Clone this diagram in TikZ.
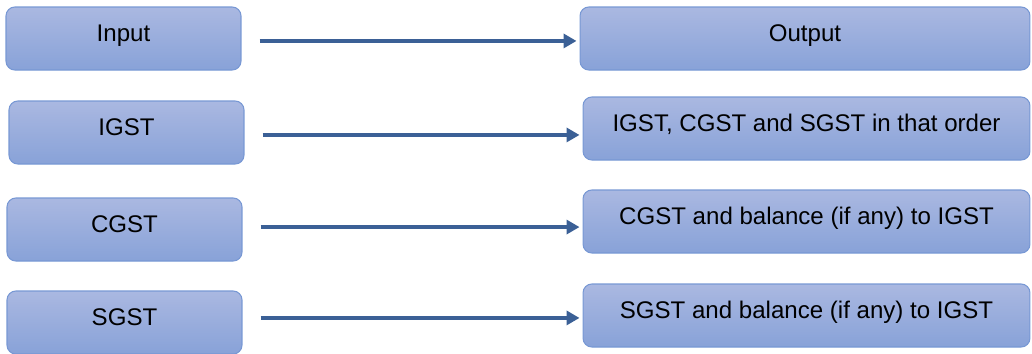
\documentclass[tikz,border=0pt]{standalone}
\usepackage{fontspec}
\setmainfont{Liberation Sans}
\usetikzlibrary{arrows.meta}
\definecolor{boxtop}{RGB}{170,184,225}
\definecolor{boxbot}{RGB}{136,162,216}
\definecolor{boxline}{RGB}{120,152,212}
\definecolor{flowblue}{RGB}{59,96,150}
\tikzset{
  gstbox/.style={draw=boxline, line width=0.6pt, rounded corners=5pt,
    top color=boxtop, bottom color=boxbot, minimum height=1.26cm,
    font=\fontsize{13.7}{16}\selectfont, text height=9.8pt, text depth=6.9pt},
  inbox/.style={gstbox, minimum width=4.7cm},
  outbox/.style={gstbox, minimum width=8.94cm},
  flow/.style={draw=flowblue, line width=2.1pt, -{Triangle[length=0.26cm, width=0.28cm]},
    shorten <=0.36cm, shorten >=0.06cm}
}
\begin{document}
\begin{tikzpicture}[x=0.02cm, y=-0.02cm]
  \useasboundingbox (0,0) rectangle (1032,353);
  \node[inbox] (in) at (123.5,38.5) {Input};
  \node[inbox] (igst) at (126.5,132.5) {IGST};
  \node[inbox] (cgst) at (124.5,229.5) {CGST};
  \node[inbox] (sgst) at (124.5,322.5) {SGST};
  \node[outbox, minimum width=9cm] (out) at (805,38.5) {Output};
  \node[outbox] (igstout) at (806.5,128.5) {IGST, CGST and SGST in that order};
  \node[outbox] (cgstout) at (806.5,221.5) {CGST and balance (if any) to IGST};
  \node[outbox] (sgstout) at (806.5,315.5) {SGST and balance (if any) to IGST};
  % arrows
  \draw[flow] ([yshift=-1.4pt]in.east) -- ([yshift=-1.4pt]in.east -| out.west);
  \draw[flow] ([yshift=-1.4pt]igst.east) -- ([yshift=-1.4pt]igst.east -| igstout.west);
  \draw[flow] ([yshift=1.4pt]cgst.east) -- ([yshift=1.4pt]cgst.east -| cgstout.west);
  \draw[flow] ([yshift=2.6pt]sgst.east) -- ([yshift=2.6pt]sgst.east -| sgstout.west);
\end{tikzpicture}
\end{document}
